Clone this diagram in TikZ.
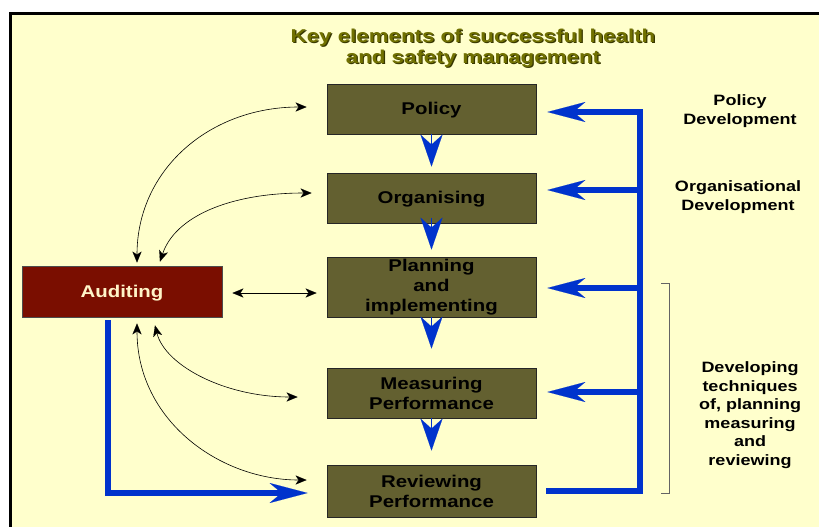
\documentclass[tikz,border=0pt]{standalone}
\usepackage{fontspec}
\setmainfont{Liberation Sans}[FakeStretch=1.2]
\usetikzlibrary{arrows.meta}

\definecolor{cream}{RGB}{255,255,204}
\definecolor{olivebox}{RGB}{99,96,48}
\definecolor{auditred}{RGB}{122,14,0}
\definecolor{flowblue}{RGB}{0,51,204}
\definecolor{titleolive}{RGB}{112,112,0}
\definecolor{titleshade}{RGB}{55,55,0}
\definecolor{audittext}{RGB}{255,244,200}
\definecolor{bracketgray}{RGB}{100,100,100}

\begin{document}
\begin{tikzpicture}[x=1pt,y=-1pt,
  stage/.style={draw=black!85, line width=0.8pt, fill=olivebox,
    minimum width=209pt, minimum height=50pt, inner sep=0pt, align=center,
    text=black, font=\fontsize{17}{20}\selectfont\bfseries},
  oneline/.style={text height=15pt, text depth=3.6pt},
  auditbox/.style={draw=black!70, line width=0.8pt, fill=auditred,
    minimum width=200pt, minimum height=51pt, inner sep=0pt,
    text=audittext, font=\fontsize{17}{20}\selectfont\bfseries},
  sidelabel/.style={align=center, inner sep=0pt, text=black,
    font=\fontsize{15}{18.5}\selectfont\bfseries},
  titletext/.style={align=center, inner sep=0pt,
    font=\fontsize{18.6}{20.5}\selectfont\bfseries},
  chev/.style={draw=flowblue, line width=0.5pt,
    -{Stealth[length=32pt,width=22pt,inset=10pt,line width=0.1pt,fill=flowblue]}},
  bus/.style={draw=flowblue, line width=5.8pt, line join=miter,
    -{Stealth[length=38pt,width=20pt,inset=12pt,line width=0.1pt,fill=flowblue]}},
  link/.style={draw=black, line width=0.6pt,
    {Stealth[length=11pt,width=9pt,inset=3pt,line width=0.1pt]}-{Stealth[length=11pt,width=9pt,inset=3pt,line width=0.1pt]}}
]
% page and panel
\useasboundingbox (0,0) rectangle (819,527);
\fill[white] (0,0) rectangle (819,527);
\fill[cream] (10,14) rectangle (819,527);
\draw[black, line width=3pt] (10,527) -- (10,14) -- (819,14);

% heading with drop shadow
\node[titletext, text=titleshade] (titleshadow) at (474.2,49.2)
  {Key elements of successful health\\and safety management};
\node[titletext, text=titleolive] (title) at (473,48)
  {Key elements of successful health\\and safety management};

% the five stages
\node[stage, oneline] (policy) at (431.5,109) {Policy};
\node[stage, oneline] (org) at (431.5,198) {Organising};
\node[stage, minimum height=60pt] (plan) at (431.5,287) {Planning\\and\\implementing};
\node[stage] (meas) at (431.5,393) {Measuring\\Performance};
\node[stage, minimum height=52pt] (review) at (431.5,491) {Reviewing\\Performance};

% auditing
\node[auditbox, oneline] (audit) at (122,291.5) {Auditing};

% side labels
\node[sidelabel] (lblpolicy) at (740,111) {Policy\\Development};
\node[sidelabel] (lblorg) at (738,197) {Organisational\\Development};
\node[sidelabel] (lbldev) at (750,415) {Developing\\techniques\\of, planning\\measuring\\and\\reviewing};

% bracket grouping the lower stages
\draw[bracketgray, line width=0.8pt] (661,283) -- (669,283) -- (669,493) -- (661,493);

% downward flow between stages
\draw[chev] (policy.south) -- ([yshift=6pt]org.north);
\draw[chev] ([yshift=5pt]org.south) -- ([yshift=7pt]plan.north);
\draw[chev] (plan.south) -- ([yshift=19pt]meas.north);
\draw[chev] (meas.south) -- ([yshift=14pt]review.north);

% feedback bus on the right
\coordinate (busTop) at (640,112);
\coordinate (busBot) at (640,491);
\coordinate (busOrg) at (640,190);
\coordinate (busPlan) at (640,288);
\coordinate (busMeas) at (640,392);
\draw[bus] ([xshift=10pt]review.east) -- (busBot) -- (busTop)
  -- ([xshift=11pt]policy.east |- busTop);
\draw[bus] (busOrg) -- ([xshift=11pt]org.east |- busOrg);
\draw[bus] (busPlan) -- ([xshift=11pt]plan.east |- busPlan);
\draw[bus] (busMeas) -- ([xshift=11pt]meas.east |- busMeas);

% auditing feeds reviewing
\draw[bus] ([xshift=-14pt,yshift=-3pt]audit.south) |- ([xshift=-19pt,yshift=-2pt]review.west);

% two-way links between auditing and the stages
\draw[link] ([xshift=15pt,yshift=3pt]audit.north) .. controls +(0,-93) and +(-97,0) .. ([xshift=-20pt,yshift=2pt]policy.west);
\draw[link] ([xshift=38pt,yshift=4pt]audit.north) .. controls +(15,-45) and +(-82,0) .. ([xshift=-15pt,yshift=5pt]org.west);
\draw[link] ([xshift=10pt,yshift=-1.5pt]audit.east) -- ([xshift=-10pt,yshift=-6pt]plan.west);
\draw[link] ([xshift=33pt,yshift=-8pt]audit.south) .. controls +(10,40) and +(-73,0) .. ([xshift=-29pt,yshift=-4pt]meas.west);
\draw[link] ([xshift=15pt,yshift=-6pt]audit.south) .. controls +(0,97) and +(-87,0) .. ([xshift=-20pt,yshift=11pt]review.west);
\end{tikzpicture}
\end{document}
